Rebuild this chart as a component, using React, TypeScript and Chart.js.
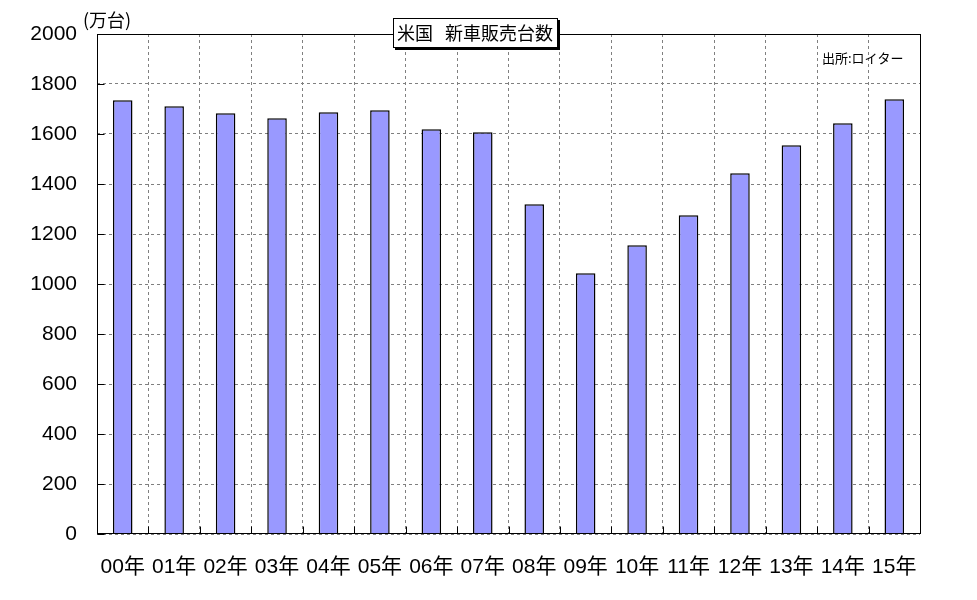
import React, { useEffect, useRef } from "react";
import { Chart, registerables } from "chart.js";

Chart.register(...registerables);

const categories = [
  "00年", "01年", "02年", "03年", "04年", "05年", "06年", "07年",
  "08年", "09年", "10年", "11年", "12年", "13年", "14年", "15年",
];
const sales = [
  1735, 1711, 1683, 1663, 1687, 1695, 1619, 1607,
  1319, 1043, 1155, 1275, 1443, 1555, 1643, 1739,
];
const yMin = 0;
const yMax = 2000;
const yStep = 200;

const TITLE_LEFT = "米国";
const TITLE_RIGHT = "新車販売台数";
const SOURCE = "出所:ロイター";
const UNIT = "(万台)";

const CJK = '"Noto Sans CJK JP"';
const NUM_FONT = '"Liberation Sans", "Noto Sans CJK JP"';

const decor = {
  id: "decor",
  afterDraw(chart: any) {
    const { ctx, chartArea: a } = chart;
    const ys = chart.scales.y;
    const xs = chart.scales.x;
    ctx.save();
    ctx.strokeStyle = "#000";
    ctx.lineWidth = 1;
    const L = Math.round(a.left) + 0.5;
    const T = Math.round(a.top) + 0.5;
    const R = Math.round(a.right) + 0.5;
    const B = Math.round(a.bottom) - 0.5;
    ctx.strokeRect(L, T, R - L, B - T);
    ctx.beginPath();
    ys.ticks.forEach((t: any) => {
      const y = Math.round(ys.getPixelForValue(t.value)) + 0.5;
      ctx.moveTo(L, y);
      ctx.lineTo(L + 7, y);
    });
    for (let i = 1; i < categories.length; i++) {
      const x = Math.round((xs.getPixelForValue(i - 1) + xs.getPixelForValue(i)) / 2) + 0.5;
      ctx.moveTo(x, B);
      ctx.lineTo(x, B - 7);
    }
    ctx.stroke();

    // title box with shadow
    const bx = 393, by = 18, bw = 164, bh = 29;
    ctx.fillStyle = "#000";
    ctx.fillRect(bx + 2, by + 2, bw + 1, bh + 1);
    ctx.fillStyle = "#fff";
    ctx.fillRect(bx, by, bw, bh);
    ctx.strokeStyle = "#000";
    ctx.strokeRect(bx + 0.5, by + 0.5, bw, bh);
    ctx.fillStyle = "#000";
    ctx.font = `18px ${CJK}`;
    ctx.textBaseline = "middle";
    ctx.textAlign = "left";
    ctx.fillText(TITLE_LEFT, 397, by + bh / 2 + 1);
    ctx.fillText(TITLE_RIGHT, 445, by + bh / 2 + 1);

    // source
    ctx.font = `13px ${CJK}`;
    ctx.fillText(SOURCE, 822, 58);

    // unit
    ctx.font = `18px ${CJK}`;
    ctx.fillText(UNIT, 83, 20);
    ctx.restore();
  },
};

export default function App() {
  const ref = useRef<HTMLCanvasElement | null>(null);
  useEffect(() => {
    if (!ref.current) return;
    const chart = new Chart(ref.current, {
      type: "bar",
      data: {
        labels: categories,
        datasets: [
          {
            data: sales,
            backgroundColor: "#9999FF",
            borderColor: "#000",
            borderWidth: 1.5,
            barPercentage: 0.38,
            categoryPercentage: 1,
          },
        ],
      },
      options: {
        responsive: false,
        animation: false,
        layout: { padding: { top: 34, right: 57, left: 0, bottom: 0 } },
        plugins: {
          legend: { display: false },
          tooltip: { enabled: false },
          title: { display: false },
        },
        scales: {
          x: {
            afterFit: (s: any) => {
              s.height = 66;
            },
            grid: { color: "#808080", lineWidth: 1, drawTicks: false, offset: true },
            border: { display: false, dash: [3, 3] },
            ticks: {
              color: "#000",
              font: { family: NUM_FONT, size: 21 },
              padding: 21,
              maxRotation: 0,
              autoSkip: false,
            },
          },
          y: {
            min: yMin,
            max: yMax,
            afterFit: (s: any) => {
              s.width = 97;
            },
            grid: { color: "#808080", lineWidth: 1, drawTicks: false },
            border: { display: false, dash: [3, 3] },
            ticks: {
              stepSize: yStep,
              color: "#000",
              font: { family: NUM_FONT, size: 21 },
              padding: 20,
              callback: (v: any) => String(v),
            },
          },
        },
      },
      plugins: [decor],
    });
    return () => chart.destroy();
  }, []);
  return (
    <div style={{ position: "absolute", left: 0, top: 0, width: 977, height: 600, background: "#fff" }}>
      <canvas ref={ref} width={977} height={600} />
    </div>
  );
}
